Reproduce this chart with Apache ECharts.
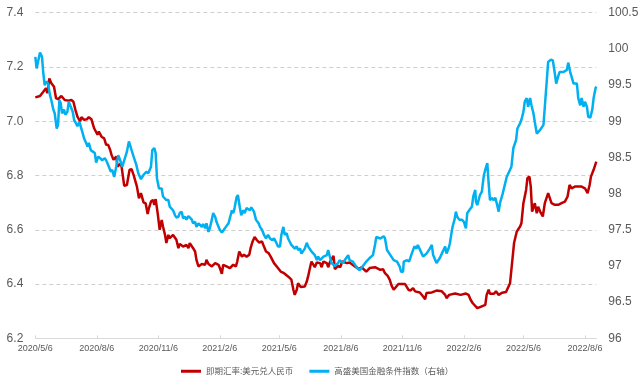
<!DOCTYPE html>
<html>
<head>
<meta charset="utf-8">
<script src="https://cdn.jsdelivr.net/npm/echarts@6/dist/echarts.min.js"></script>
<style>
html,body{margin:0;padding:0;background:#fff;}
#chart{width:644px;height:385px;}
</style>
</head>
<body>
<div id="chart"></div>
<script>
// ---- data ----
var seriesNames = ['即期汇率:美元兑人民币', '高盛美国金融条件指数（右轴）'];
var xTickLabels = ['2020/5/6','2020/8/6','2020/11/6','2021/2/6','2021/5/6','2021/8/6','2021/11/6','2022/2/6','2022/5/6','2022/8/6'];
var xStart = '2020/5/6';
var xEnd = '2022/8/23';
var leftAxisMin = 6.2, leftAxisMax = 7.4, leftAxisStep = 0.2;
var rightAxisMin = 96, rightAxisMax = 100.5, rightAxisStep = 0.5;

var usdCny = [
['2020-05-06',7.088],['2020-05-08',7.081],['2020-05-13',7.093],['2020-05-18',7.109],['2020-05-22',7.122],
['2020-05-24',7.103],['2020-05-27',7.158],['2020-05-30',7.140],['2020-06-03',7.127],['2020-06-06',7.085],
['2020-06-09',7.081],['2020-06-14',7.093],['2020-06-19',7.078],['2020-06-24',7.076],['2020-06-29',7.078],
['2020-07-02',7.072],['2020-07-05',7.042],['2020-07-08',7.017],['2020-07-12',6.999],['2020-07-14',7.015],
['2020-07-18',7.005],['2020-07-22',7.007],['2020-07-25',7.015],['2020-07-29',7.007],['2020-08-02',6.974],
['2020-08-04',6.980],['2020-08-07',6.950],['2020-08-09',6.962],['2020-08-13',6.943],['2020-08-17',6.937],
['2020-08-20',6.913],['2020-08-23',6.913],['2020-08-26',6.894],['2020-08-28',6.876],['2020-08-31',6.858],
['2020-09-04',6.870],['2020-09-06',6.833],['2020-09-10',6.843],['2020-09-12',6.833],['2020-09-16',6.762],
['2020-09-20',6.765],['2020-09-24',6.821],['2020-09-27',6.823],['2020-09-30',6.802],['2020-10-05',6.759],
['2020-10-08',6.716],['2020-10-11',6.735],['2020-10-15',6.700],['2020-10-18',6.698],['2020-10-21',6.658],
['2020-10-23',6.680],['2020-10-26',6.704],['2020-10-29',6.710],['2020-10-31',6.692],['2020-11-02',6.713],
['2020-11-05',6.661],['2020-11-08',6.600],['2020-11-11',6.636],['2020-11-13',6.612],['2020-11-16',6.581],
['2020-11-18',6.551],['2020-11-21',6.581],['2020-11-23',6.569],['2020-11-28',6.581],['2020-12-03',6.563],
['2020-12-06',6.532],['2020-12-08',6.548],['2020-12-13',6.538],['2020-12-18',6.544],['2020-12-21',6.532],
['2020-12-23',6.551],['2020-12-28',6.532],['2020-12-31',6.520],['2021-01-02',6.489],['2021-01-05',6.465],
['2021-01-10',6.474],['2021-01-15',6.471],['2021-01-17',6.489],['2021-01-20',6.474],['2021-01-25',6.465],
['2021-01-30',6.477],['2021-02-04',6.471],['2021-02-06',6.459],['2021-02-09',6.438],['2021-02-11',6.471],
['2021-02-16',6.465],['2021-02-21',6.459],['2021-02-26',6.471],['2021-03-02',6.465],['2021-03-04',6.483],
['2021-03-07',6.520],['2021-03-11',6.501],['2021-03-14',6.508],['2021-03-18',6.501],['2021-03-22',6.508],
['2021-03-24',6.532],['2021-03-27',6.557],['2021-03-30',6.573],['2021-04-02',6.563],['2021-04-06',6.553],
['2021-04-10',6.557],['2021-04-13',6.538],['2021-04-16',6.520],['2021-04-20',6.514],['2021-04-23',6.501],
['2021-04-28',6.477],['2021-05-03',6.462],['2021-05-08',6.446],['2021-05-13',6.440],['2021-05-19',6.428],
['2021-05-24',6.416],['2021-05-27',6.379],['2021-05-29',6.360],['2021-06-01',6.379],['2021-06-03',6.403],
['2021-06-07',6.389],['2021-06-13',6.391],['2021-06-16',6.409],['2021-06-18',6.428],['2021-06-21',6.462],
['2021-06-23',6.483],['2021-06-28',6.462],['2021-07-01',6.479],['2021-07-06',6.477],['2021-07-08',6.462],
['2021-07-11',6.483],['2021-07-16',6.477],['2021-07-18',6.462],['2021-07-21',6.483],['2021-07-26',6.504],
['2021-07-28',6.455],['2021-08-02',6.467],['2021-08-05',6.462],['2021-08-08',6.483],['2021-08-15',6.477],
['2021-08-19',6.479],['2021-08-27',6.465],['2021-09-02',6.455],['2021-09-06',6.462],['2021-09-13',6.446],
['2021-09-18',6.459],['2021-09-26',6.462],['2021-10-04',6.452],['2021-10-08',6.455],['2021-10-11',6.440],
['2021-10-15',6.430],['2021-10-18',6.416],['2021-10-21',6.393],['2021-10-24',6.379],['2021-10-28',6.391],
['2021-10-31',6.400],['2021-11-02',6.403],['2021-11-10',6.400],['2021-11-15',6.379],['2021-11-18',6.376],
['2021-11-22',6.385],['2021-11-25',6.373],['2021-12-02',6.369],['2021-12-07',6.354],['2021-12-10',6.344],
['2021-12-12',6.367],['2021-12-20',6.369],['2021-12-27',6.376],['2022-01-04',6.373],['2022-01-09',6.360],
['2022-01-11',6.348],['2022-01-15',6.360],['2022-01-24',6.365],['2022-02-01',6.360],['2022-02-09',6.365],
['2022-02-13',6.360],['2022-02-16',6.342],['2022-02-19',6.330],['2022-02-26',6.311],['2022-03-02',6.315],
['2022-03-10',6.323],['2022-03-12',6.360],['2022-03-15',6.379],['2022-03-17',6.364],['2022-03-23',6.364],
['2022-03-26',6.373],['2022-03-30',6.360],['2022-04-04',6.368],['2022-04-10',6.371],['2022-04-16',6.403],
['2022-04-18',6.452],['2022-04-22',6.551],['2022-04-26',6.593],['2022-05-01',6.612],['2022-05-03',6.624],
['2022-05-06',6.698],['2022-05-10',6.747],['2022-05-12',6.790],['2022-05-15',6.796],['2022-05-17',6.759],
['2022-05-19',6.667],['2022-05-23',6.698],['2022-05-26',6.661],['2022-05-28',6.685],['2022-05-31',6.667],
['2022-06-04',6.649],['2022-06-07',6.698],['2022-06-12',6.735],['2022-06-17',6.698],['2022-06-22',6.692],
['2022-06-27',6.692],['2022-07-02',6.698],['2022-07-07',6.704],['2022-07-11',6.722],['2022-07-14',6.765],
['2022-07-17',6.753],['2022-07-22',6.759],['2022-07-27',6.759],['2022-08-01',6.759],['2022-08-06',6.753],
['2022-08-10',6.735],['2022-08-13',6.765],['2022-08-15',6.796],['2022-08-19',6.821],['2022-08-23',6.851]
];

var gsFci = [
['2020-05-06',99.89],['2020-05-08',99.73],['2020-05-10',99.82],['2020-05-13',99.95],['2020-05-16',99.89],
['2020-05-18',99.66],['2020-05-20',99.50],['2020-05-23',99.55],['2020-05-25',99.52],['2020-05-28',99.36],
['2020-05-30',99.29],['2020-06-02',99.16],['2020-06-04',99.11],['2020-06-07',98.90],['2020-06-09',98.95],
['2020-06-11',99.29],['2020-06-13',99.25],['2020-06-15',99.11],['2020-06-18',99.16],['2020-06-20',99.09],
['2020-06-23',99.13],['2020-06-25',99.27],['2020-06-27',99.27],['2020-07-01',99.13],['2020-07-03',99.02],
['2020-07-06',98.97],['2020-07-08',98.93],['2020-07-11',98.99],['2020-07-13',98.97],['2020-07-16',98.83],
['2020-07-18',98.76],['2020-07-21',98.70],['2020-07-23',98.65],['2020-07-25',98.70],['2020-07-28',98.60],
['2020-07-31',98.58],['2020-08-03',98.56],['2020-08-05',98.43],['2020-08-08',98.51],['2020-08-11',98.49],
['2020-08-14',98.46],['2020-08-18',98.49],['2020-08-21',98.44],['2020-08-24',98.37],['2020-08-27',98.30],
['2020-08-29',98.33],['2020-09-01',98.23],['2020-09-04',98.37],['2020-09-07',98.53],['2020-09-10',98.46],
['2020-09-13',98.37],['2020-09-16',98.46],['2020-09-20',98.58],['2020-09-23',98.72],['2020-09-26',98.63],
['2020-09-30',98.51],['2020-10-04',98.40],['2020-10-07',98.28],['2020-10-11',98.20],['2020-10-15',98.26],
['2020-10-19',98.30],['2020-10-22',98.28],['2020-10-26',98.37],['2020-10-28',98.60],['2020-10-31',98.63],
['2020-11-02',98.56],['2020-11-04',98.21],['2020-11-07',98.07],['2020-11-11',98.07],['2020-11-13',97.96],
['2020-11-18',97.91],['2020-11-21',97.91],['2020-11-23',97.82],['2020-11-28',97.77],['2020-12-01',97.70],
['2020-12-03',97.67],['2020-12-06',97.68],['2020-12-08',97.73],['2020-12-11',97.75],['2020-12-13',97.66],
['2020-12-16',97.68],['2020-12-18',97.64],['2020-12-21',97.69],['2020-12-26',97.64],['2020-12-28',97.59],
['2020-12-31',97.61],['2021-01-02',97.54],['2021-01-05',97.59],['2021-01-10',97.54],['2021-01-12',97.58],
['2021-01-15',97.52],['2021-01-17',97.59],['2021-01-20',97.47],['2021-01-22',97.52],['2021-01-25',97.64],
['2021-01-27',97.73],['2021-01-30',97.68],['2021-02-01',97.61],['2021-02-04',97.54],['2021-02-06',97.50],
['2021-02-09',97.46],['2021-02-12',97.50],['2021-02-15',97.54],['2021-02-19',97.59],['2021-02-21',97.66],
['2021-02-24',97.77],['2021-02-26',97.73],['2021-02-28',97.80],['2021-03-03',97.95],['2021-03-05',97.98],
['2021-03-08',97.80],['2021-03-10',97.70],['2021-03-13',97.77],['2021-03-15',97.73],['2021-03-18',97.80],
['2021-03-20',97.82],['2021-03-23',97.77],['2021-03-25',97.81],['2021-03-29',97.75],['2021-04-01',97.64],
['2021-04-05',97.59],['2021-04-07',97.54],['2021-04-10',97.50],['2021-04-13',97.43],['2021-04-16',97.38],
['2021-04-19',97.43],['2021-04-22',97.38],['2021-04-25',97.36],['2021-04-28',97.38],['2021-05-01',97.33],
['2021-05-04',97.27],['2021-05-07',97.27],['2021-05-09',97.43],['2021-05-12',97.54],['2021-05-14',97.43],
['2021-05-17',97.45],['2021-05-19',97.38],['2021-05-24',97.29],['2021-05-29',97.24],['2021-06-01',97.27],
['2021-06-03',97.22],['2021-06-06',97.24],['2021-06-08',97.17],['2021-06-13',97.24],['2021-06-16',97.32],
['2021-06-18',97.27],['2021-06-23',97.20],['2021-06-28',97.15],['2021-07-01',97.08],['2021-07-03',97.13],
['2021-07-06',97.08],['2021-07-11',97.13],['2021-07-13',97.11],['2021-07-16',97.15],['2021-07-18',97.22],
['2021-07-21',97.11],['2021-07-23',97.04],['2021-07-28',97.00],['2021-08-02',97.04],['2021-08-04',97.08],
['2021-08-09',97.04],['2021-08-14',97.11],['2021-08-17',97.15],['2021-08-19',97.08],['2021-08-24',97.06],
['2021-08-29',96.99],['2021-09-03',96.94],['2021-09-08',97.00],['2021-09-13',97.06],['2021-09-18',97.11],
['2021-09-23',97.15],['2021-09-26',97.29],['2021-09-28',97.40],['2021-10-04',97.38],['2021-10-09',97.41],
['2021-10-11',97.38],['2021-10-14',97.22],['2021-10-19',97.15],['2021-10-24',97.08],['2021-10-29',97.06],
['2021-11-02',96.99],['2021-11-04',96.92],['2021-11-07',96.92],['2021-11-08',97.06],['2021-11-13',97.08],
['2021-11-16',97.06],['2021-11-20',97.17],['2021-11-24',97.27],['2021-11-27',97.24],['2021-11-29',97.29],
['2021-12-05',97.17],['2021-12-07',97.13],['2021-12-12',97.17],['2021-12-17',97.24],['2021-12-20',97.29],
['2021-12-22',97.15],['2021-12-27',97.04],['2022-01-01',97.11],['2022-01-04',97.17],['2022-01-09',97.27],
['2022-01-11',97.17],['2022-01-14',97.24],['2022-01-16',97.31],['2022-01-18',97.43],['2022-01-20',97.54],
['2022-01-23',97.64],['2022-01-25',97.75],['2022-01-27',97.68],['2022-01-30',97.64],['2022-02-03',97.64],
['2022-02-06',97.61],['2022-02-09',97.52],['2022-02-11',97.73],['2022-02-14',97.77],['2022-02-18',97.82],
['2022-02-20',97.96],['2022-02-23',98.05],['2022-02-24',97.89],['2022-02-26',97.84],['2022-03-02',97.98],
['2022-03-05',98.03],['2022-03-06',98.12],['2022-03-08',98.26],['2022-03-10',98.33],['2022-03-13',98.42],
['2022-03-15',98.14],['2022-03-17',97.91],['2022-03-20',97.94],['2022-03-22',97.91],['2022-03-25',97.94],
['2022-03-27',97.87],['2022-03-30',97.75],['2022-04-01',97.87],['2022-04-05',98.00],['2022-04-11',98.23],
['2022-04-16',98.33],['2022-04-18',98.37],['2022-04-21',98.63],['2022-04-25',98.74],['2022-04-27',98.90],
['2022-05-01',98.97],['2022-05-03',99.02],['2022-05-06',99.13],['2022-05-08',99.27],['2022-05-11',99.32],
['2022-05-13',99.20],['2022-05-16',99.32],['2022-05-18',99.22],['2022-05-21',99.11],['2022-05-23',98.99],
['2022-05-26',98.83],['2022-05-28',98.84],['2022-05-31',98.88],['2022-06-02',98.88],['2022-06-05',98.95],
['2022-06-07',99.20],['2022-06-10',99.57],['2022-06-12',99.82],['2022-06-16',99.85],['2022-06-19',99.84],
['2022-06-22',99.66],['2022-06-24',99.52],['2022-06-27',99.62],['2022-06-29',99.68],['2022-07-01',99.66],
['2022-07-05',99.68],['2022-07-07',99.66],['2022-07-10',99.71],['2022-07-12',99.81],['2022-07-15',99.68],
['2022-07-17',99.66],['2022-07-20',99.52],['2022-07-22',99.50],['2022-07-25',99.52],['2022-07-27',99.32],
['2022-07-30',99.22],['2022-08-01',99.32],['2022-08-04',99.20],['2022-08-06',99.27],['2022-08-09',99.20],
['2022-08-11',99.06],['2022-08-14',99.05],['2022-08-17',99.16],['2022-08-19',99.32],['2022-08-22',99.46],
['2022-08-23',99.48]
];

// ---- helpers ----
function toTime(s) {
  var p = s.split(/[\/\-]/);
  return Date.UTC(+p[0], +p[1] - 1, +p[2]);
}
function fmtDate(v) {
  var d = new Date(Math.round(v));
  return d.getUTCFullYear() + '/' + (d.getUTCMonth() + 1) + '/' + d.getUTCDate();
}
var tickTimes = xTickLabels.map(toTime);
var labelColor = '#595959';
var fontBase = '"Liberation Sans", Arial, "Noto Sans CJK SC", sans-serif';

var chart = echarts.init(document.getElementById('chart'), null, {renderer: 'canvas'});
chart.setOption({
  animation: false,
  backgroundColor: '#ffffff',
  grid: {left: 35.3, right: 47.7, top: 12.7, bottom: 46.7, containLabel: false},
  legend: {
    data: seriesNames,
    left: 176,
    top: 362,
    icon: 'rect',
    itemWidth: 20,
    itemHeight: 3,
    itemGap: 16,
    textStyle: {color: labelColor, fontSize: 8.5, fontFamily: '"Noto Sans CJK SC", sans-serif'}
  },
  xAxis: {
    type: 'value',
    min: toTime(xStart),
    max: toTime(xEnd),
    axisLine: {show: true, lineStyle: {color: '#D9D9D9', width: 1}},
    axisTick: {show: true, inside: true, length: 3, lineStyle: {color: '#D9D9D9'}, customValues: tickTimes},
    axisLabel: {
      customValues: tickTimes,
      formatter: function (v) { return fmtDate(v); },
      color: labelColor, fontSize: 9, fontFamily: fontBase, margin: 6
    },
    splitLine: {show: false}
  },
  yAxis: [{
    type: 'value',
    min: leftAxisMin, max: leftAxisMax, interval: leftAxisStep,
    axisLine: {show: false}, axisTick: {show: false},
    axisLabel: {color: labelColor, fontSize: 12, fontFamily: fontBase, margin: 12,
      formatter: function (v) { return v.toFixed(1); }},
    splitLine: {show: true, lineStyle: {color: '#D0D0D0', type: [4, 3], width: 1}}
  }, {
    type: 'value',
    min: rightAxisMin, max: rightAxisMax, interval: rightAxisStep,
    axisLine: {show: false}, axisTick: {show: false},
    axisLabel: {color: labelColor, fontSize: 12, fontFamily: fontBase, margin: 12},
    splitLine: {show: false}
  }],
  series: [{
    name: seriesNames[0],
    type: 'line',
    yAxisIndex: 0,
    data: usdCny.map(function (p) { return [toTime(p[0]), p[1]]; }),
    showSymbol: false,
    color: '#C00000',
    lineStyle: {color: '#C00000', width: 2.5},
    z: 2
  }, {
    name: seriesNames[1],
    type: 'line',
    yAxisIndex: 1,
    data: gsFci.map(function (p) { return [toTime(p[0]), p[1]]; }),
    showSymbol: false,
    color: '#00B0F0',
    lineStyle: {color: '#00B0F0', width: 2.5},
    z: 3
  }]
});
</script>
</body>
</html>
